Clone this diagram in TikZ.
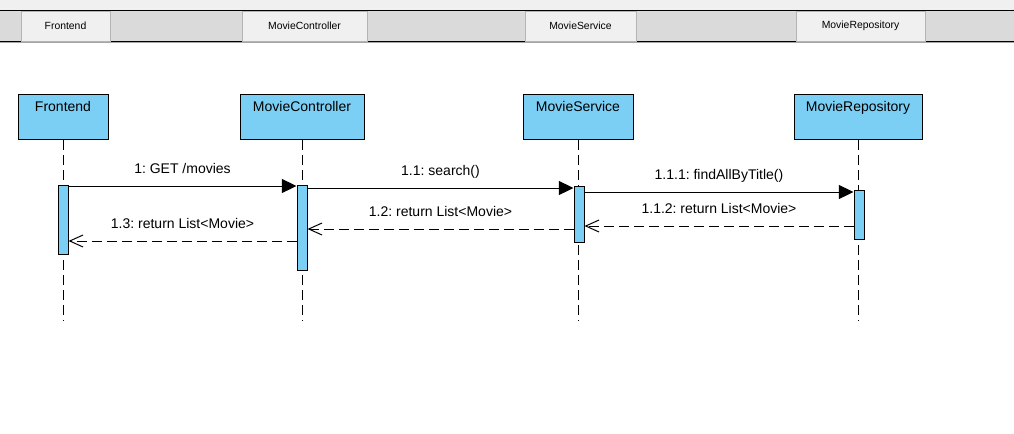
\documentclass[tikz,border=0pt]{standalone}
\usepackage{fontspec}
\setmainfont{Liberation Sans}
\usetikzlibrary{arrows.meta}
\frenchspacing

\definecolor{headblue}{HTML}{7BCFF5}
\definecolor{bargray}{HTML}{DADADA}
\definecolor{tabgray}{HTML}{F0F0F0}
\definecolor{tabedge}{HTML}{B4B4B4}

\tikzstyle{tab} = [
    rectangle,
    fill=tabgray,
    draw=tabedge,
    line width=0.75pt,
    minimum height=22.5pt,
    inner sep=0pt,
    font=\fontsize{7.8}{9}\selectfont
]
\tikzstyle{head} = [
    rectangle,
    fill=headblue,
    draw=black,
    line width=0.75pt,
    inner sep=0pt,
    text height=12.75pt,
    text depth=21pt,
    anchor=north,
    font=\fontsize{10.5}{12}\selectfont
]
\tikzstyle{activation} = [
    rectangle,
    fill=headblue,
    draw=black,
    line width=0.75pt,
    minimum width=7.5pt,
    inner sep=0pt,
    anchor=north
]
\tikzstyle{lifeline} = [line width=0.75pt, dash pattern=on 7.5pt off 3.75pt]
\tikzstyle{call} = [line width=0.75pt, -{Triangle[length=11pt,width=10.5pt]}]
\tikzstyle{reply} = [
    line width=0.75pt,
    dash pattern=on 7.5pt off 3.75pt,
    -{Straight Barb[length=10pt,width=9pt]}
]
\tikzstyle{msg} = [
    font=\fontsize{10.5}{12}\selectfont,
    inner sep=0pt,
    anchor=base,
    yshift=9.5pt
]

\begin{document}
\begin{tikzpicture}[x=0.75pt, y=-0.75pt]

\fill [white] (0,0) rectangle (1014,433);
\useasboundingbox (0,0) rectangle (1014,433);

\fill [tabgray] (0,0) rectangle (1014,10);
\fill [bargray] (0,10) rectangle (1014,41);
\draw [line width=0.75pt] (0,10) -- (1014,10);
\draw [line width=0.75pt] (0,41) -- (1014,41);
\draw [gray!70, line width=0.75pt] (0,42) -- (1014,42);

\node (tab-fe) [tab, minimum width=66.75pt] at (65.5,26) {Frontend};
\node (tab-fc) [tab, minimum width=93.75pt] at (304.5,26) {MovieController};
\node (tab-sv) [tab, minimum width=83.25pt] at (580.5,26) {MovieService};
\node (tab-rp) [tab, minimum width=96.75pt] at (860.5,26) {MovieRepository};

\node (fe) [head, minimum width=67.5pt] at (63,94) {Frontend};
\node (fc) [head, minimum width=93pt] at (302,94) {MovieController};
\node (sv) [head, minimum width=82.5pt] at (578,94) {MovieService};
\node (rp) [head, minimum width=96pt] at (858,94) {MovieRepository};

\coordinate (fe-end) at (63,321);
\coordinate (fc-end) at (302,321);
\coordinate (sv-end) at (578,321);
\coordinate (rp-end) at (858,321);

\draw [lifeline] (fe.south) -- (fe-end);
\draw [lifeline] (fc.south) -- (fc-end);
\draw [lifeline] (sv.south) -- (sv-end);
\draw [lifeline] (rp.south) -- (rp-end);

\node (fe-act) [activation, minimum height=51.75pt] at (63,185) {};
\node (fc-act) [activation, minimum height=63.75pt] at (302,185) {};
\node (sv-act) [activation, minimum height=42pt] at (579,186) {};
\node (rp-act) [activation, minimum height=36.75pt] at (859,190) {};

\coordinate (r1) at (0,186);
\coordinate (r2) at (0,188);
\coordinate (r3) at (0,192);
\coordinate (r4) at (0,226);
\coordinate (r5) at (0,229);
\coordinate (r6) at (0,241);

\draw [call] (fe-act.east |- r1) -- (fc-act.west |- r1)
    node [msg, midway] {1: GET /movies};
\draw [call] (fc-act.east |- r2) -- (sv-act.west |- r2)
    node [msg, midway] {1.1: search()};
\draw [call] (sv-act.east |- r3) -- (rp-act.west |- r3)
    node [msg, midway] {1.1.1: findAllByTitle()};
\draw [reply] (rp-act.west |- r4) -- (sv-act.east |- r4)
    node [msg, midway] {1.1.2: return List<Movie>};
\draw [reply] (sv-act.west |- r5) -- (fc-act.east |- r5)
    node [msg, midway] {1.2: return List<Movie>};
\draw [reply] (fc-act.west |- r6) -- (fe-act.east |- r6)
    node [msg, midway] {1.3: return List<Movie>};

\end{tikzpicture}
\end{document}
